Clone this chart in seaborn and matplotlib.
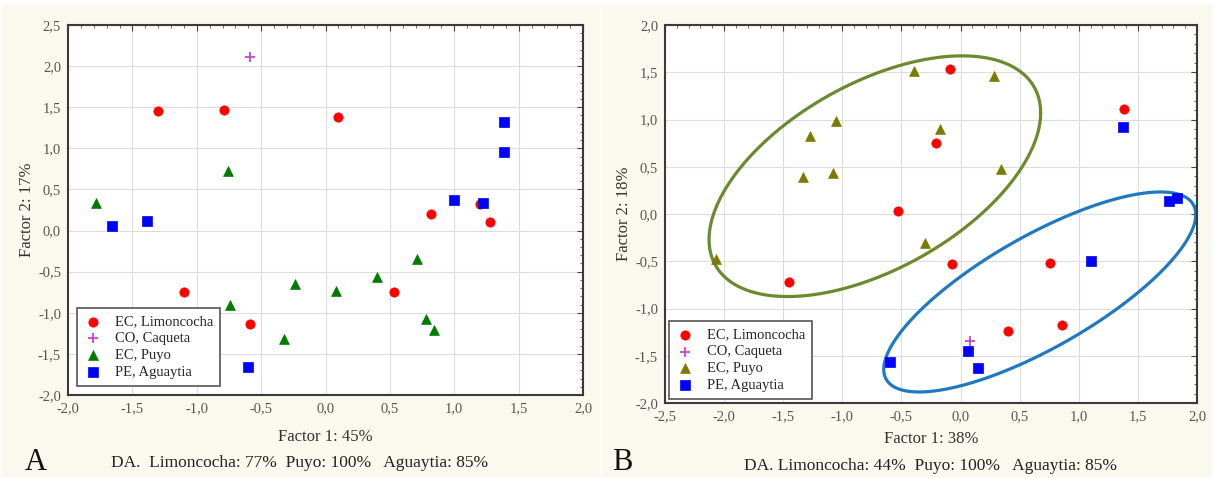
import numpy as np
import pandas as pd
import matplotlib.pyplot as plt
import matplotlib.patches as mpatches
from matplotlib.ticker import MultipleLocator, FuncFormatter
import seaborn as sns

# panel A
a_lim_x = [-1.30, -0.79, 0.10, 0.82, 1.28, 1.20, -1.10, -0.59, 0.53]
a_lim_y = [1.46, 1.47, 1.38, 0.20, 0.10, 0.32, -0.75, -1.14, -0.75]
a_caq_x = [-0.59]
a_caq_y = [2.11]
a_puy_x = [-1.78, -0.76, -0.74, -0.24, -0.32, 0.08, 0.40, 0.71, 0.78, 0.84]
a_puy_y = [0.33, 0.73, -0.91, -0.65, -1.32, -0.73, -0.57, -0.35, -1.07, -1.21]
a_agu_x = [-1.66, -1.39, -0.60, 1.00, 1.22, 1.39, 1.39]
a_agu_y = [0.05, 0.12, -1.66, 0.37, 0.33, 0.95, 1.32]

# panel B
b_lim_x = [-0.09, -0.21, -0.53, -0.07, -1.45, 0.76, 0.86, 0.40, 1.38]
b_lim_y = [1.53, 0.75, 0.03, -0.53, -0.72, -0.52, -1.17, -1.24, 1.11]
b_caq_x = [0.08]
b_caq_y = [-1.34]
b_puy_x = [-2.07, -1.33, -1.27, -1.08, -1.05, -0.39, -0.17, 0.28, 0.34, -0.30]
b_puy_y = [-0.48, 0.39, 0.83, 0.43, 0.98, 1.51, 0.90, 1.46, 0.48, -0.31]
b_agu_x = [1.37, 1.76, 1.83, 1.10, 0.06, 0.15, -0.60]
b_agu_y = [0.92, 0.14, 0.17, -0.50, -1.45, -1.63, -1.57]

groups = ["EC, Limoncocha", "CO, Caqueta", "EC, Puyo", "PE, Aguaytia"]

# ellipses in panel B: centre, var x, var y, cov xy
green_ell = (-0.725, 0.40, 1.967, 1.622, 0.94)
blue_ell = (0.67, -0.825, 1.742, 1.12, 1.08)

def make_df(lim_x, lim_y, caq_x, caq_y, puy_x, puy_y, agu_x, agu_y):
    parts = []
    for g, xs, ys in zip(groups, [lim_x, caq_x, puy_x, agu_x], [lim_y, caq_y, puy_y, agu_y]):
        parts.append(pd.DataFrame({"x": xs, "y": ys, "group": g}))
    return pd.concat(parts, ignore_index=True)

df_a = make_df(a_lim_x, a_lim_y, a_caq_x, a_caq_y, a_puy_x, a_puy_y, a_agu_x, a_agu_y)
df_b = make_df(b_lim_x, b_lim_y, b_caq_x, b_caq_y, b_puy_x, b_puy_y, b_agu_x, b_agu_y)

sns.set_style("white")
plt.rcParams["font.family"] = ["Liberation Serif", "DejaVu Serif"]

cream = "#fbf8ee"
fig = plt.figure(figsize=(12.15, 4.78), dpi=100)
fig.patches.append(mpatches.Rectangle((2 / 1215, 2 / 478), 597 / 1215, 471 / 478,
                                      transform=fig.transFigure, color=cream, zorder=-10))
fig.patches.append(mpatches.Rectangle((602 / 1215, 2 / 478), 609 / 1215, 471 / 478,
                                      transform=fig.transFigure, color=cream, zorder=-10))

ax_a = fig.add_axes([68 / 1215, 83 / 478, 515 / 1215, 370 / 478])
ax_b = fig.add_axes([665 / 1215, 75 / 478, 532 / 1215, 378 / 478])

styles = {
    "EC, Limoncocha": dict(marker="o", s=45),
    "CO, Caqueta": dict(marker="+", s=55, linewidth=1.3),
    "EC, Puyo": dict(marker="^", s=50),
    "PE, Aguaytia": dict(marker="s", s=50),
}
colors_a = {"EC, Limoncocha": "#ff0000", "CO, Caqueta": "#cc44cc",
            "EC, Puyo": "#007a00", "PE, Aguaytia": "#0000ff"}
colors_b = {"EC, Limoncocha": "#ff0000", "CO, Caqueta": "#cc44cc",
            "EC, Puyo": "#7a7a00", "PE, Aguaytia": "#0000ff"}

fmt = FuncFormatter(lambda v, p: f"{v:.1f}".replace(".", ","))


def draw(ax, df, colors, xlim, ylim, xlabel, ylabel, xpad, legpad):
    ax.set_facecolor("white")
    for g in groups:
        sub = df[df["group"] == g]
        kw = dict(styles[g])
        if kw["marker"] == "+":
            sns.scatterplot(data=sub, x="x", y="y", ax=ax, color=colors[g], label=g, zorder=3, **kw)
        else:
            sns.scatterplot(data=sub, x="x", y="y", ax=ax, color=colors[g], label=g,
                            edgecolor=colors[g], linewidth=0.5, zorder=3, **kw)
    ax.set_xlim(*xlim)
    ax.set_ylim(*ylim)
    ax.xaxis.set_major_locator(MultipleLocator(0.5))
    ax.yaxis.set_major_locator(MultipleLocator(0.5))
    ax.xaxis.set_minor_locator(MultipleLocator(0.1))
    ax.yaxis.set_minor_locator(MultipleLocator(0.1))
    ax.xaxis.set_major_formatter(fmt)
    ax.yaxis.set_major_formatter(fmt)
    ax.grid(True, which="major", color="#dcdcdc", linewidth=0.8)
    ax.tick_params(which="both", direction="in", top=True, right=True,
                   color="#444444", labelsize=10.5, labelcolor="#555555")
    ax.tick_params(which="major", length=4, pad=5)
    ax.tick_params(which="minor", length=2.5)
    for sp in ax.spines.values():
        sp.set_color("#3a3a3a")
        sp.set_linewidth(1.5)
    ax.set_xlabel(xlabel, fontsize=12, color="#333333", labelpad=xpad)
    ax.set_ylabel(ylabel, fontsize=12, color="#333333", labelpad=2)
    leg = ax.legend(loc="lower left", fontsize=10.5, frameon=True, fancybox=False,
                    borderaxespad=legpad, handletextpad=0.9, labelspacing=0.25,
                    borderpad=0.5, handlelength=1.2)
    leg.get_frame().set_edgecolor("#555555")
    leg.get_frame().set_linewidth(1.2)
    leg.get_frame().set_facecolor("white")
    leg.get_frame().set_alpha(1)


draw(ax_a, df_a, colors_a, (-2.0, 2.0), (-2.0, 2.5), "Factor 1: 45%", "Factor 2: 17%", 10, 0.6)
draw(ax_b, df_b, colors_b, (-2.5, 2.0), (-2.0, 2.0), "Factor 1: 38%", "Factor 2: 18%", 6, 0.25)


def ellipse(ax, params, color):
    cx, cy, sxx, syy, sxy = params
    L = np.linalg.cholesky(np.array([[sxx, sxy], [sxy, syy]]))
    t = np.linspace(0, 2 * np.pi, 300)
    pts = L @ np.vstack([np.cos(t), np.sin(t)])
    ax.plot(cx + pts[0], cy + pts[1], color=color, linewidth=2.3, zorder=2)


ellipse(ax_b, green_ell, "#6b8a2e")
ellipse(ax_b, blue_ell, "#1e78c2")

fig.text(300 / 1215, 1 - 463 / 478, "DA.  Limoncocha: 77%  Puyo: 100%   Aguaytia: 85%",
         ha="center", va="center", fontsize=12.5, color="#222222")
fig.text(930 / 1215, 1 - 466 / 478, "DA. Limoncocha: 44%  Puyo: 100%   Aguaytia: 85%",
         ha="center", va="center", fontsize=12.5, color="#222222")
fig.text(36 / 1215, 1 - 462 / 478, "A", ha="center", va="center", fontsize=22, color="#111111")
fig.text(622 / 1215, 1 - 462 / 478, "B", ha="center", va="center", fontsize=22, color="#111111")

fig.savefig("out.png", dpi=100, facecolor="white")
